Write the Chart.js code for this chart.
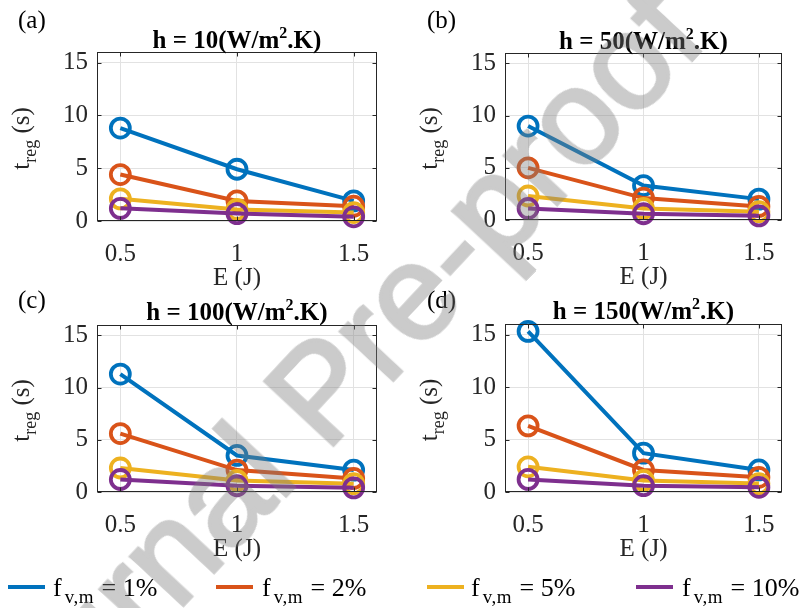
<!DOCTYPE html>
<html><head><meta charset="utf-8">
<script src="https://cdn.jsdelivr.net/npm/chart.js@4.4.1/dist/chart.umd.min.js"></script>
<style>
body{margin:0;background:#fff;}
#wrap{position:relative;width:802px;height:608px;overflow:hidden;background:#fff;font-family:"Liberation Serif","Times New Roman",serif;}
canvas{position:absolute;}
.lline{position:absolute;height:4px;width:37px;top:585px;}
.ltext{position:absolute;top:575px;font-size:26px;line-height:26px;white-space:nowrap;color:#000;}
.ltext sub{font-size:19px;line-height:0;vertical-align:-7px;margin-left:3px;margin-right:1px;letter-spacing:0.5px;}
#wm{position:absolute;left:-2px;top:690px;font-family:"Liberation Sans",Arial,sans-serif;font-weight:normal;font-size:135px;line-height:135px;white-space:nowrap;color:rgb(125,125,125);-webkit-text-stroke:3.5px rgb(125,125,125);opacity:0.4;transform-origin:0 114px;transform:rotate(-47deg);pointer-events:none;}
</style></head><body>
<div id="wrap">
<canvas id="cA" width="401" height="300" style="left:0;top:0"></canvas>
<canvas id="cB" width="401" height="300" style="left:401px;top:0"></canvas>
<canvas id="cC" width="401" height="300" style="left:0;top:272px"></canvas>
<canvas id="cD" width="401" height="300" style="left:401px;top:272px"></canvas>
<div id="legend"></div>
<div id="wm">Journal Pre-proof</div>
</div>
<script>
// ---- data ----
const E = [0.5, 1, 1.5];
const xTicks = [0.5, 1, 1.5];
const yTicks = [0, 5, 10, 15];
const fractions = ['1%', '2%', '5%', '10%'];
const colors = ['#0072BD', '#D95319', '#EDB120', '#7E2F8E'];
const hValues = ['10', '50', '100', '150'];
const panelLabels = ['(a)', '(b)', '(c)', '(d)'];
// panel (a) h = 10
const a1 = [8.8, 4.9, 1.9];
const a2 = [4.4, 1.9, 1.4];
const a5 = [2.1, 1.1, 0.8];
const a10 = [1.2, 0.7, 0.4];
// panel (b) h = 50
const b1 = [9.0, 3.3, 2.0];
const b2 = [5.0, 2.1, 1.3];
const b5 = [2.3, 1.1, 0.8];
const b10 = [1.1, 0.6, 0.4];
// panel (c) h = 100
const c1 = [11.3, 3.5, 2.1];
const c2 = [5.6, 2.1, 1.3];
const c5 = [2.3, 1.1, 0.8];
const c10 = [1.2, 0.6, 0.4];
// panel (d) h = 150
const d1 = [15.3, 3.7, 2.1];
const d2 = [6.3, 2.1, 1.4];
const d5 = [2.4, 1.1, 0.8];
const d10 = [1.2, 0.6, 0.45];

const panelData = [[a1, a2, a5, a10], [b1, b2, b5, b10], [c1, c2, c5, c10], [d1, d2, d5, d10]];
const canvasIds = ['cA', 'cB', 'cC', 'cD'];
const areas = [
  {l: 97, r: 377, t: 52, b: 221},
  {l: 104, r: 381, t: 53, b: 220},
  {l: 97, r: 377, t: 53, b: 220},
  {l: 104, r: 381, t: 52, b: 220}
];
const labelPos = [{x: 18, y: 28}, {x: 26, y: 28}, {x: 18, y: 36}, {x: 26, y: 36}];
const titleY = [48, 49, 48, 47];
const W = 401, H = 300;
const SERIF = '"Liberation Serif", "Times New Roman", serif';

const panelPlugin = {
  id: 'panel',
  afterDraw(chart) {
    const o = chart.options.plugins.panel;
    const ctx = chart.ctx, ca = chart.chartArea, xs = chart.scales.x, ys = chart.scales.y;
    ctx.save();
    ctx.strokeStyle = '#262626';
    ctx.lineWidth = 1;
    const L = Math.round(ca.left) + 0.5, R = Math.round(ca.right) - 0.5, T = Math.round(ca.top) + 0.5, B = Math.round(ca.bottom) - 0.5;
    ctx.strokeRect(L, T, R - L, B - T);
    ctx.beginPath();
    xTicks.forEach(v => {
      const p = Math.round(xs.getPixelForValue(v)) + 0.5;
      ctx.moveTo(p, B); ctx.lineTo(p, B - 4);
      ctx.moveTo(p, T); ctx.lineTo(p, T + 4);
    });
    yTicks.forEach(v => {
      const p = Math.round(ys.getPixelForValue(v)) + 0.5;
      ctx.moveTo(L, p); ctx.lineTo(L + 4, p);
      ctx.moveTo(R, p); ctx.lineTo(R - 4, p);
    });
    ctx.stroke();
    ctx.fillStyle = '#000';
    ctx.textBaseline = 'alphabetic';
    ctx.textAlign = 'left';
    ctx.font = '25px ' + SERIF;
    ctx.fillText(o.label, o.lx, o.ly);
    const cx = (ca.left + ca.right) / 2;
    const p1 = 'h = ' + o.h + '(W/m', sup = '2', p3 = '.K)';
    ctx.font = 'bold 25px ' + SERIF;
    const w1 = ctx.measureText(p1).width, w3 = ctx.measureText(p3).width;
    ctx.font = 'bold 16px ' + SERIF;
    const w2 = ctx.measureText(sup).width;
    let x = cx - (w1 + w2 + w3) / 2;
    ctx.font = 'bold 25px ' + SERIF;
    ctx.fillText(p1, x, o.ty);
    ctx.font = 'bold 16px ' + SERIF;
    ctx.fillText(sup, x + w1, o.ty - 10);
    ctx.font = 'bold 25px ' + SERIF;
    ctx.fillText(p3, x + w1 + w2, o.ty);
    ctx.font = '25px ' + SERIF;
    ctx.textAlign = 'center';
    ctx.fillStyle = '#262626';
    ctx.fillText('E (J)', cx, ca.bottom + 64);
    ctx.textAlign = 'left';
    ctx.translate(ca.left - 68, (ca.top + ca.bottom) / 2 + 2);
    ctx.rotate(-Math.PI / 2);
    ctx.font = '25px ' + SERIF;
    const wt = ctx.measureText('t').width, ws = ctx.measureText(' (s)').width;
    ctx.font = '18px ' + SERIF;
    const wr = ctx.measureText('reg').width;
    const x0 = -(wt + wr + ws) / 2;
    ctx.font = '25px ' + SERIF;
    ctx.fillText('t', x0, 0);
    ctx.font = '18px ' + SERIF;
    ctx.fillText('reg', x0 + wt, 7);
    ctx.font = '25px ' + SERIF;
    ctx.fillText(' (s)', x0 + wt + wr, 0);
    ctx.restore();
  }
};

panelData.forEach((series, i) => {
  const area = areas[i];
  const datasets = series.map((vals, k) => ({
    label: 'f_v,m = ' + fractions[k],
    data: E.map((e, j) => ({x: e, y: vals[j]})),
    borderColor: colors[k],
    backgroundColor: colors[k],
    borderWidth: 4,
    pointRadius: 9.5,
    pointHoverRadius: 9.5,
    pointBorderWidth: 3.8,
    pointBackgroundColor: 'rgba(0,0,0,0)',
    pointBorderColor: colors[k],
    fill: false,
    tension: 0,
    clip: false,
    order: 3 - k
  }));
  new Chart(document.getElementById(canvasIds[i]), {
    type: 'line',
    data: {datasets},
    plugins: [panelPlugin],
    options: {
      responsive: false,
      animation: false,
      devicePixelRatio: 1,
      layout: {padding: {left: 0, top: area.t, right: W - area.r, bottom: 0}},
      plugins: {
        legend: {display: false},
        tooltip: {enabled: false},
        panel: {label: panelLabels[i], lx: labelPos[i].x, ly: labelPos[i].y, h: hValues[i], ty: titleY[i]}
      },
      scales: {
        x: {
          type: 'linear', min: 0.4, max: 1.6,
          afterFit(s) { s.height = H - area.b; },
          afterBuildTicks(s) { s.ticks = xTicks.map(v => ({value: v})); },
          grid: {color: '#e2e2e2', lineWidth: 1, drawTicks: false},
          border: {display: false},
          ticks: {padding: 18, color: '#262626', font: {family: SERIF, size: 25}, maxRotation: 0,
            callback: v => String(v)}
        },
        y: {
          min: 0, max: 16,
          afterFit(s) { s.width = area.l; },
          afterBuildTicks(s) { s.ticks = yTicks.map(v => ({value: v})); },
          grid: {color: '#e2e2e2', lineWidth: 1, drawTicks: false},
          border: {display: false},
          ticks: {padding: 9, color: '#262626', font: {family: SERIF, size: 25}, callback: v => String(v)}
        }
      }
    }
  });
});

const legendX = [{line: 8, text: 53}, {line: 216, text: 262}, {line: 427, text: 471}, {line: 636, text: 682}];
const lg = document.getElementById('legend');
fractions.forEach((f, k) => {
  const ln = document.createElement('div');
  ln.className = 'lline';
  ln.style.left = legendX[k].line + 'px';
  ln.style.background = colors[k];
  lg.appendChild(ln);
  const tx = document.createElement('div');
  tx.className = 'ltext';
  tx.style.left = legendX[k].text + 'px';
  tx.innerHTML = 'f<sub>v,m</sub> = ' + f;
  lg.appendChild(tx);
});
</script>
</body></html>
